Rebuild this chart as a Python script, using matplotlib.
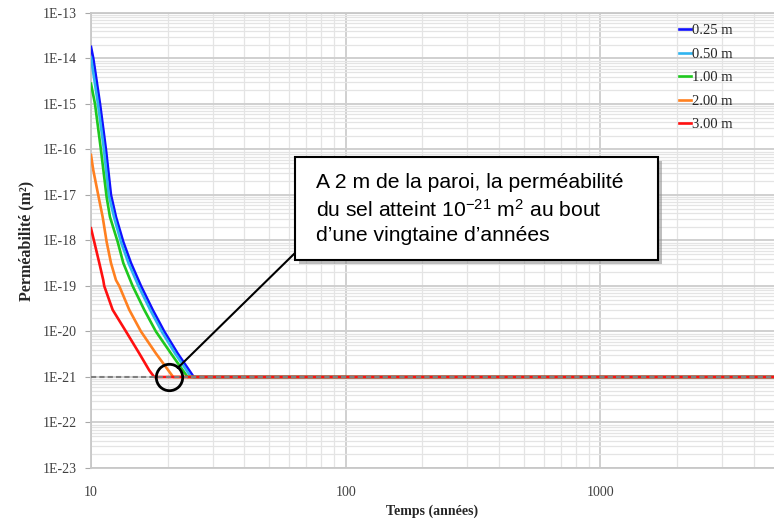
import numpy as np
import matplotlib
matplotlib.use("Agg")
import matplotlib.pyplot as plt
from matplotlib.ticker import LogLocator, FixedLocator, FuncFormatter, NullFormatter
from matplotlib.patches import Rectangle

plt.rcParams['mathtext.fontset'] = 'custom'
plt.rcParams['mathtext.rm'] = 'Liberation Sans'
plt.rcParams['mathtext.it'] = 'Liberation Sans:italic'

# temps (annees) / permeabilite (m2)
x_max = 4800
t_025 = [10, 10.21, 10.85, 11.45, 11.98, 12.53, 13.39, 14.35, 15.71, 17.46, 19.39, 21.88, 25.3, x_max]
k_025 = [1.8e-14, 1e-14, 1e-15, 9.8e-17, 1e-17, 3.3e-18, 9.3e-19, 3.2e-19, 1e-19, 3.0e-20, 1e-20, 3.3e-21, 1e-21, 1e-21]

t_050 = [10, 10.65, 11.24, 11.74, 12.31, 13.11, 14.03, 15.36, 17.07, 18.95, 21.39, 24.7, x_max]
k_050 = [1.05e-14, 1e-15, 1e-16, 1e-17, 3.3e-18, 9.3e-19, 3.2e-19, 1e-19, 3.0e-20, 1e-20, 3.3e-21, 1e-21, 1e-21]

t_100 = [10, 10.37, 10.94, 11.52, 11.87, 12.73, 13.39, 14.57, 16.18, 17.98, 20.6, 23.94, x_max]
k_100 = [2.8e-15, 1e-15, 9.8e-17, 8.9e-18, 3.3e-18, 9.3e-19, 3.2e-19, 1e-19, 3.0e-20, 1e-20, 3.3e-21, 1e-21, 1e-21]

t_200 = [10, 10.21, 10.72, 11.11, 11.52, 11.98, 12.53, 12.91, 14.13, 15.71, 17.98, 21.02, x_max]
k_200 = [7.6e-17, 3.5e-17, 8.9e-18, 3.3e-18, 9.3e-19, 3.2e-19, 1.35e-19, 1e-19, 3.0e-20, 1e-20, 3.3e-21, 1e-21, 1e-21]

t_300 = [10, 10.30, 10.78, 11.17, 11.27, 12.16, 13.72, 15.47, 16.93, 17.71, x_max]
k_300 = [1.86e-18, 9.3e-19, 3.2e-19, 1.35e-19, 1e-19, 3.0e-20, 1e-20, 3.3e-21, 1.4e-21, 1e-21, 1e-21]

series = [
    ("0.25 m", t_025, k_025, "#1010ff"),
    ("0.50 m", t_050, k_050, "#2fb4f0"),
    ("1.00 m", t_100, k_100, "#1ec81e"),
    ("2.00 m", t_200, k_200, "#ff8020"),
    ("3.00 m", t_300, k_300, "#ff1010"),
]
k_seuil = 1e-21
y_ticks = [10.0 ** e for e in range(-23, -12)]
x_ticks = [10, 100, 1000]
x_labels = ["10", "100", "1000"]

fig = plt.figure(figsize=(7.74, 5.19), dpi=100)
ax = fig.add_axes([91 / 774, 1 - 468 / 519, 1 - 91 / 774, 455 / 519])
ax.set_xscale('log')
ax.set_yscale('log')
ax.set_xlim(10, x_max)
ax.set_ylim(1e-23, 1e-13)

for label, t, k, c in series:
    ax.plot(t, k, color=c, lw=1.9, label=label, zorder=3, solid_joinstyle='round')
ax.axhline(k_seuil, color='#7f7f7f', lw=1.5, dashes=(2.5, 1.5), zorder=4)

ax.yaxis.set_major_locator(FixedLocator(y_ticks))
ax.yaxis.set_major_formatter(FuncFormatter(lambda v, p: "1E%d" % round(np.log10(v))))
ax.yaxis.set_minor_locator(LogLocator(base=10, subs=np.arange(2, 10), numticks=100))
ax.yaxis.set_minor_formatter(NullFormatter())
ax.xaxis.set_major_locator(FixedLocator(x_ticks))
ax.xaxis.set_major_formatter(FuncFormatter(lambda v, p: x_labels[x_ticks.index(round(v))] if round(v) in x_ticks else ""))
ax.xaxis.set_minor_locator(LogLocator(base=10, subs=np.arange(2, 10), numticks=100))
ax.xaxis.set_minor_formatter(NullFormatter())

ax.grid(which='major', color='#d0d0d0', lw=1.4)
ax.grid(which='minor', color='#e4e4e4', lw=0.9)
ax.set_axisbelow(True)

ax.spines['right'].set_visible(False)
for s in ['left', 'bottom', 'top']:
    ax.spines[s].set_color('#c8c8c8')
    ax.spines[s].set_linewidth(1.3)

ax.tick_params(axis='y', which='major', length=4, color='#a8a8a8', pad=6,
               labelsize=10, labelcolor='#404040', labelfontfamily='Liberation Serif')
ax.tick_params(axis='x', which='major', length=0, pad=13,
               labelsize=10, labelcolor='#404040', labelfontfamily='Liberation Serif')
ax.tick_params(which='minor', length=0)

ax.set_xlabel("Temps (années)", family='Liberation Serif', fontweight='bold', fontsize=10, color='#262626', labelpad=4)
ax.set_ylabel("Perméabilité (m²)", family='Liberation Serif', fontweight='bold', fontsize=11.5, color='#262626', labelpad=6)

leg = ax.legend(loc='upper right', bbox_to_anchor=(740 / 774, 1 - 17 / 519), bbox_transform=fig.transFigure,
                frameon=False, handlelength=0.85, handletextpad=0.05, labelspacing=0.7, borderpad=0,
                prop={'family': 'Liberation Serif', 'size': 10.5})
for txt in leg.get_texts():
    txt.set_color('#262626')

# annotation : cercle + trait + encadre
t_cercle = 20.2
t_bord = 21.9
k_bord = 1.58e-21
ax.plot([t_cercle], [k_seuil], marker='o', ms=19, mfc='none', mec='black', mew=2, zorder=6)
ax.annotate('', xy=(t_bord, k_bord), xycoords='data',
            xytext=(295 / 774, 1 - 253 / 519), textcoords='figure fraction',
            arrowprops=dict(arrowstyle='-', color='black', lw=1.5, shrinkA=0, shrinkB=0), zorder=6)

bx, by, bw, bh = 295 / 774, 1 - 260 / 519, 363 / 774, 103 / 519
fig.patches.append(Rectangle((bx + 4 / 774, by - 4 / 519), bw, bh, transform=fig.transFigure,
                             facecolor='#8a8a8a', edgecolor='none', alpha=0.55, zorder=7))
fig.patches.append(Rectangle((bx, by), bw, bh, transform=fig.transFigure,
                             facecolor='white', edgecolor='black', lw=1.5, zorder=8))

lignes = ["A 2 m de la paroi, la perméabilité",
          "du sel atteint 10$^{-21}$ m$^{2}$ au bout",
          "d\u2019une vingtaine d\u2019années"]
bases = [188, 217, 241]
for txt, yb in zip(lignes, bases):
    fig.text(316 / 774, 1 - yb / 519, txt, va='baseline', ha='left', fontsize=15.2,
             family='Liberation Sans', color='black', zorder=9)

fig.savefig("out.png", dpi=100)
